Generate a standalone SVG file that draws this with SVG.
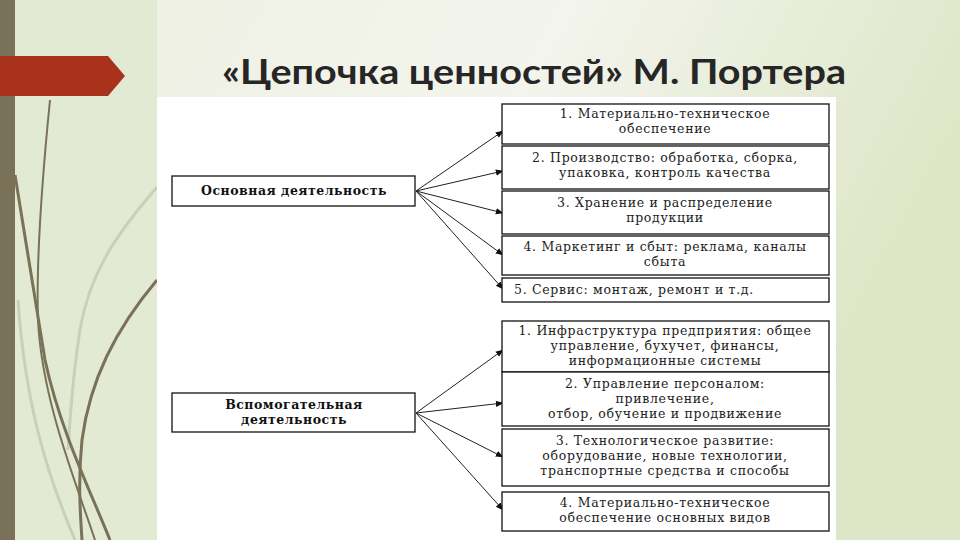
<svg xmlns="http://www.w3.org/2000/svg" width="960" height="540" viewBox="0 0 960 540">
<defs>
<linearGradient id="bg" x1="0" y1="0" x2="1" y2="0.3">
<stop offset="0" stop-color="#eef0e2"/>
<stop offset="0.55" stop-color="#f3f4ec"/>
<stop offset="1" stop-color="#dde6c6"/>
</linearGradient>
<marker id="ah" viewBox="0 0 10 10" refX="9" refY="5" markerWidth="8" markerHeight="8" markerUnits="userSpaceOnUse" orient="auto">
<path d="M0,1 L10,5 L0,9 Z" fill="#111"/>
</marker>
<style>
.box{fill:#fff;stroke:#111;stroke-width:1.3}
.t{font-family:"DejaVu Serif","Liberation Serif",serif;font-size:12.5px;letter-spacing:0.7px;fill:#222;text-anchor:middle}
.ts{font-family:"DejaVu Serif","Liberation Serif",serif;font-size:12.5px;letter-spacing:0.7px;fill:#222;text-anchor:start}
.tb{font-family:"DejaVu Serif","Liberation Serif",serif;font-size:12.5px;letter-spacing:0.5px;font-weight:bold;fill:#111;text-anchor:middle}
.c{stroke:#222;stroke-width:1;fill:none;marker-end:url(#ah)}
.deco{fill:none;stroke:#7a7159;stroke-width:3}
.decot{fill:none;stroke:#7a7159;stroke-width:2}
.decol{fill:none;stroke:#c9d0b8;stroke-width:3}
</style>
</defs>
<rect width="960" height="540" fill="url(#bg)"/>
<rect x="15" y="0" width="142" height="540" fill="#e3ead3"/>
<rect x="0" y="0" width="15" height="540" fill="#7a7159"/>
<g id="decor">
<path class="decol" d="M157,187 C120,230 90,270 80,330 C72,380 70,420 68,450"/>
<path class="decol" d="M18,300 C25,400 45,470 75,540"/>
<path class="decot" d="M50,100 C42,180 36,260 38,320 C42,400 75,480 95,540"/>
<path class="deco" d="M15,175 C25,240 35,300 45,360 C60,430 90,490 110,540"/>
<path class="deco" d="M157,280 C115,330 90,380 82,440 C78,480 80,510 82,540"/>
</g>
<polygon id="banner" points="0,56 108,56 125,76 108,96 0,96" fill="#a8321b"/>
<text id="title" x="534" y="84" text-anchor="middle" font-family="Lato,'DejaVu Sans',sans-serif" font-weight="bold" font-size="35" fill="#262626" textLength="624" lengthAdjust="spacingAndGlyphs">«Цепочка ценностей» М. Портера</text>
<rect x="157" y="97" width="679" height="443" fill="#fff"/>
<g id="connectors">
<line class="c" x1="416" y1="191" x2="503" y2="131"/>
<line class="c" x1="416" y1="191" x2="503" y2="171"/>
<line class="c" x1="416" y1="191" x2="503" y2="213"/>
<line class="c" x1="416" y1="191" x2="503" y2="255"/>
<line class="c" x1="416" y1="191" x2="503" y2="289"/>
<line class="c" x1="416" y1="413" x2="503" y2="350"/>
<line class="c" x1="416" y1="413" x2="503" y2="403"/>
<line class="c" x1="416" y1="413" x2="503" y2="457"/>
<line class="c" x1="416" y1="413" x2="503" y2="510"/>
</g>
<g id="main">
<rect class="box" x="172" y="176" width="243" height="30"/>
<text class="tb" x="294" y="195">Основная деятельность</text>
</g>
<g id="support">
<rect class="box" x="172" y="393" width="243" height="39"/>
<text class="tb" x="294" y="409">Вспомогательная</text>
<text class="tb" x="294" y="424">деятельность</text>
</g>
<g id="p1">
<rect class="box" x="502" y="104" width="327" height="40"/>
<text class="t" x="665" y="118">1.  Материально-техническое</text>
<text class="t" x="665" y="133">обеспечение</text>
</g>
<g id="p2">
<rect class="box" x="502" y="146" width="327" height="43"/>
<text class="t" x="665" y="162">2.  Производство: обработка, сборка,</text>
<text class="t" x="665" y="177">упаковка, контроль качества</text>
</g>
<g id="p3">
<rect class="box" x="502" y="191" width="327" height="43"/>
<text class="t" x="665" y="207">3.  Хранение и распределение</text>
<text class="t" x="665" y="222">продукции</text>
</g>
<g id="p4">
<rect class="box" x="502" y="236" width="327" height="39"/>
<text class="t" x="665" y="251">4.  Маркетинг и сбыт: реклама, каналы</text>
<text class="t" x="665" y="266">сбыта</text>
</g>
<g id="p5">
<rect class="box" x="502" y="278" width="327" height="24"/>
<text class="ts" x="514" y="294">5.  Сервис: монтаж, ремонт и т.д.</text>
</g>
<g id="s1">
<rect class="box" x="502" y="321" width="327" height="51"/>
<text class="t" x="665" y="335">1.  Инфраструктура предприятия: общее</text>
<text class="t" x="665" y="350">управление, бухучет, финансы,</text>
<text class="t" x="665" y="365">информационные системы</text>
</g>
<g id="s2">
<rect class="box" x="502" y="372" width="327" height="54"/>
<text class="t" x="665" y="388">2.  Управление персоналом:</text>
<text class="t" x="665" y="403">привлечение,</text>
<text class="t" x="665" y="418">отбор, обучение и продвижение</text>
</g>
<g id="s3">
<rect class="box" x="502" y="429" width="327" height="57"/>
<text class="t" x="665" y="445">3.  Технологическое развитие:</text>
<text class="t" x="665" y="460">оборудование, новые технологии,</text>
<text class="t" x="665" y="475">транспортные средства и способы</text>
</g>
<g id="s4">
<rect class="box" x="502" y="492" width="327" height="39"/>
<text class="t" x="665" y="507">4.  Материально-техническое</text>
<text class="t" x="665" y="522">обеспечение основных видов</text>
</g>
</svg>
